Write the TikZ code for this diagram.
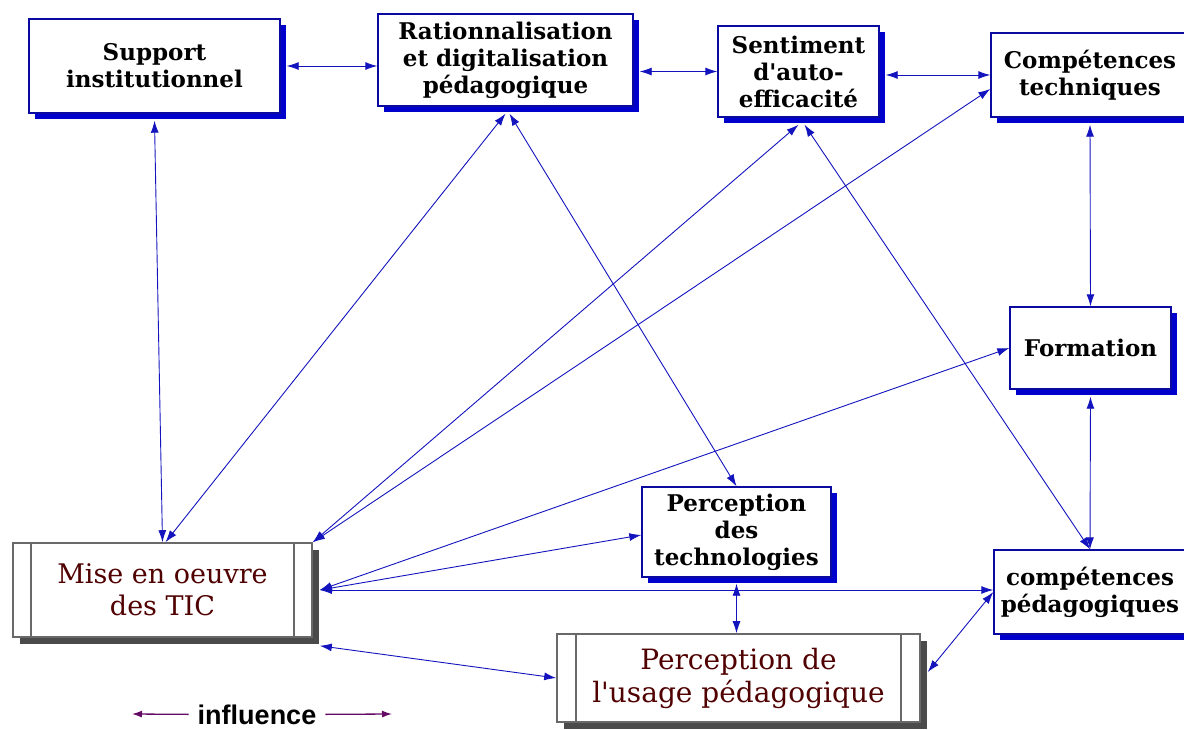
\documentclass[tikz,border=0pt]{standalone}
\usepackage{fontspec}
\setmainfont{DejaVu Serif}[Ligatures=TeXOff]
\setsansfont{Liberation Sans}
\usepackage{tikz}
\usetikzlibrary{arrows.meta,shadows,calc}
\definecolor{linkblue}{RGB}{20,20,190}
\definecolor{boxblue}{RGB}{10,10,160}
\definecolor{shadowblue}{RGB}{0,0,205}
\definecolor{boxgray}{RGB}{105,105,105}
\definecolor{shadowgray}{RGB}{75,75,75}
\definecolor{ticred}{RGB}{80,0,0}
\definecolor{legendpurple}{RGB}{100,10,100}
\tikzset{
  bluebox/.style={
    draw=boxblue, line width=1.4pt, fill=white, align=center, inner sep=0pt,
    font=\fontsize{23}{27}\selectfont\bfseries,
    drop shadow={shadow xshift=6pt, shadow yshift=-6pt, fill=shadowblue, opacity=1}
  },
  procbox/.style={
    draw=boxgray, line width=1.6pt, fill=white, align=center, inner sep=0pt, text=ticred,
    font=\fontsize{27}{32}\selectfont,
    drop shadow={shadow xshift=7pt, shadow yshift=-7pt, fill=shadowgray, opacity=1}
  },
  procbar/.style={draw=boxgray, line width=1.6pt},
  link/.style={draw=linkblue, line width=0.9pt, {Latex[length=12pt,width=8pt]}-{Latex[length=12pt,width=8pt]}},
  legend/.style={font=\fontsize{27}{30}\selectfont\sffamily\bfseries, inner xsep=9pt, inner ysep=0pt},
  legendlink/.style={draw=legendpurple, line width=1.3pt, -{Latex[length=10pt,width=7pt]}}
}

\begin{document}
\begin{tikzpicture}[x=1pt,y=-1pt]
		\path[use as bounding box, fill=white] (0,0) rectangle (1184,729);

		\node[bluebox, minimum width=251pt, minimum height=94pt] (support) at (154.5,66) {Support\\institutionnel};
		\node[bluebox, minimum width=255pt, minimum height=92pt] (rational) at (505.5,60) {Rationnalisation\\et digitalisation\\pédagogique};
		\node[bluebox, minimum width=161pt, minimum height=91pt] (sentiment) at (798.5,71.5) {Sentiment\\d'auto-\\efficacité};
		\node[bluebox, minimum width=198pt, minimum height=84pt] (comptech) at (1090,75) {Compétences\\techniques};
		\node[bluebox, minimum width=161pt, minimum height=82pt] (formation) at (1090.5,348) {Formation};
		\node[bluebox, minimum width=189pt, minimum height=90pt] (perctech) at (736.5,532) {Perception\\des\\technologies};
		\node[bluebox, minimum width=192pt, minimum height=84pt] (comppeda) at (1090,592) {compétences\\pédagogiques};

		\node[procbox, minimum width=299pt, minimum height=94pt] (mise) at (162.5,590) {Mise en oeuvre\\des TIC};
		\node[procbox, minimum width=363pt, minimum height=88pt, font=\fontsize{28}{33}\selectfont] (usage) at (738.5,678) {Perception de\\l'usage pédagogique};
		\foreach \n/\d in {mise/19pt,usage/20pt} {
			\draw[procbar] ([xshift=\d]\n.north west) -- ([xshift=\d]\n.south west)
				([xshift=-\d]\n.north east) -- ([xshift=-\d]\n.south east);
		}

		\draw[link] ([xshift=6pt]support.east) -- (support.east -| rational.west);
		\draw[link] ([xshift=6pt]rational.east |- sentiment.west) -- (sentiment.west);
		\draw[link] ([xshift=6pt]sentiment.east |- comptech.west) -- (comptech.west);
		\draw[link] ([yshift=-7pt]support.south) -- (mise.north);
		\draw[link] ([yshift=-7pt]rational.south) -- ([xshift=3pt]mise.north);
		\draw[link] ([xshift=4pt,yshift=-7pt]rational.south) -- (perctech.north);
		\draw[link] ([yshift=-7pt]sentiment.south) -- (mise.north east);
		\draw[link] ([yshift=-14pt]comptech.west) -- (mise.north east);
		\draw[link] ([xshift=6pt,yshift=-7pt]sentiment.south) -- (comppeda.north);
		\draw[link] ([yshift=-7pt]comptech.south) -- (formation.north);
		\draw[link] ([yshift=-7pt]formation.south) -- (comppeda.north);
		\draw[link] ([xshift=7pt]mise.east) -- (formation.west);
		\draw[link] ([xshift=7pt]mise.east) -- ([yshift=-3pt]perctech.west);
		\draw[link] ([xshift=7pt]mise.east) -- (mise.east -| comppeda.west);
		\draw[link] ([yshift=-6pt]perctech.south) -- (perctech.south |- usage.north);
		\draw[link] ([shift={(7pt,-8pt)}]mise.south east) -- (usage.west);
		\draw[link] ([shift={(7pt,6pt)}]usage.east) -- (comppeda.west);

		% legend
		\node[legend, anchor=base] (influence) at (257,724) {influence};
		\coordinate (legleft) at (132,714);
		\coordinate (legright) at (392,714);
		\draw[legendlink] (influence.west) -- (legleft);
		\draw[legendlink] (influence.east) -- (legright);
	\end{tikzpicture}
\end{document}
